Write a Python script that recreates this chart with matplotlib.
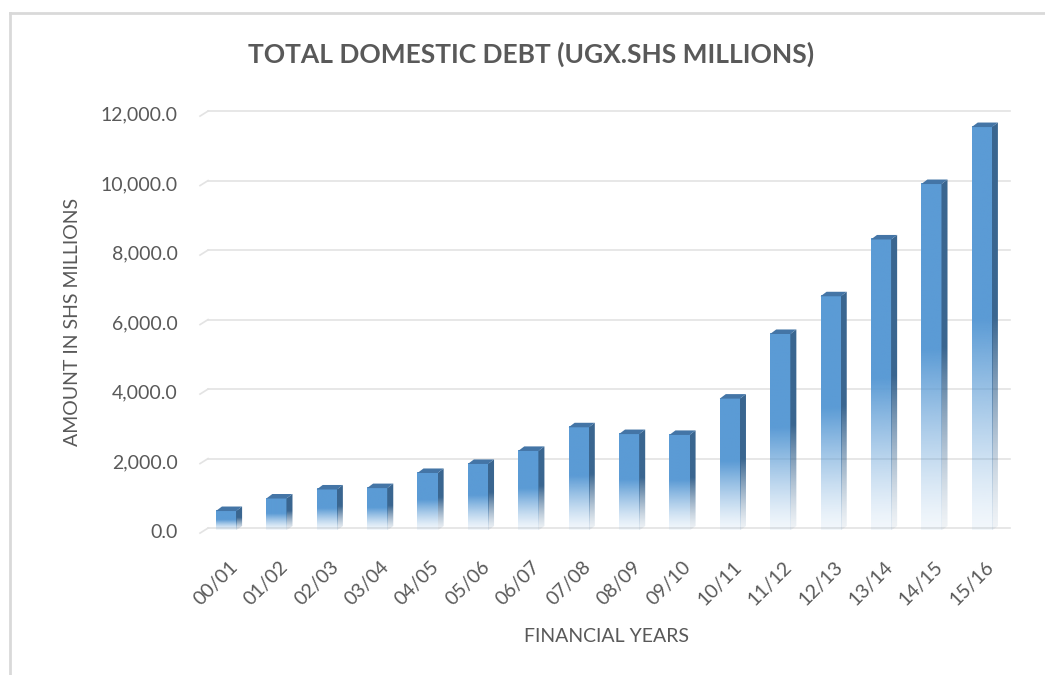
import numpy as np
import matplotlib
matplotlib.use("Agg")
import matplotlib.pyplot as plt
from matplotlib.patches import Polygon
from matplotlib.lines import Line2D
from matplotlib.colors import to_rgb

years = ["00/01", "01/02", "02/03", "03/04", "04/05", "05/06", "06/07", "07/08",
         "08/09", "09/10", "10/11", "11/12", "12/13", "13/14", "14/15", "15/16"]
debt = [560, 920, 1180, 1220, 1655, 1915, 2290, 2970,
        2775, 2750, 3795, 5655, 6740, 8375, 9970, 11610]
yticks = [0, 2000, 4000, 6000, 8000, 10000, 12000]

FRONT = "#5b9bd5"
SIDE = "#3a6690"
TOP = "#4475a6"
GRID = "#e3e3e3"
TEXT = "#595959"

plt.rcParams["font.family"] = ["Lato", "DejaVu Sans"]

fig = plt.figure(figsize=(10.45, 6.75), dpi=100)
ax = fig.add_axes([203.8 / 1045, 1 - 530.5 / 675, 806.2 / 1045, 417 / 675])
ax.set_xlim(-0.5, len(years) - 0.5)
ax.set_ylim(0, 12000)

# fake 3D: front width, depth offset in data units
bw = 0.40
dx, dy = 0.12, 130


def fade(color, n=256):
    t = np.linspace(0, 1, n)
    a = 0.08 + 0.92 * np.clip(t / 0.52, 0, 1) ** 1.3
    rgba = np.zeros((n, 1, 4))
    rgba[..., :3] = to_rgb(color)
    rgba[..., 3] = a[:, None]
    return rgba


for i, h in enumerate(debt):
    x0 = i - 0.06 - bw / 2
    x1 = x0 + bw
    # front face
    ax.imshow(fade(FRONT), extent=[x0, x1, 0, h], origin="lower",
              aspect="auto", interpolation="bilinear", zorder=3)
    # side face
    side = Polygon([(x1, 0), (x1, h), (x1 + dx, h + dy), (x1 + dx, dy)],
                   closed=True, facecolor="none", edgecolor="none")
    ax.add_patch(side)
    im = ax.imshow(fade(SIDE), extent=[x1, x1 + dx, 0, h + dy], origin="lower",
                   aspect="auto", interpolation="bilinear", zorder=3)
    im.set_clip_path(side)
    # top face
    ax.add_patch(Polygon([(x0, h), (x1, h), (x1 + dx, h + dy), (x0 + dx, h + dy)],
                         closed=True, facecolor=TOP, edgecolor="none", zorder=4))

ax.set_xlim(-0.5, len(years) - 0.5)
ax.set_ylim(0, 12000)

# gridlines on the back wall with a short floor stub on the left
for v in yticks:
    ax.plot([-0.415, len(years) - 0.5], [v + 70, v + 70], color=GRID, lw=1.2,
            zorder=1, clip_on=False)
    ax.plot([-0.575, -0.415], [v - 75, v + 70], color=GRID, lw=1.2,
            zorder=1, clip_on=False)

for s in ax.spines.values():
    s.set_visible(False)

ax.set_yticks(yticks)
ax.set_yticklabels([f"{v:,.1f}" for v in yticks])
ax.set_xticks(range(len(years)))
ax.set_xticklabels(years, rotation=45, ha="right", rotation_mode="anchor")
ax.tick_params(axis="y", length=0, pad=19, labelsize=14, labelcolor=TEXT)
ax.tick_params(axis="x", length=0, pad=20, labelsize=14, labelcolor=TEXT)

ax.set_ylabel("AMOUNT IN SHS MILLIONS", fontsize=14, color=TEXT, labelpad=14)
ax.set_xlabel("FINANCIAL YEARS", fontsize=14, color=TEXT, labelpad=14)

fig.text(531.5 / 1045, 1 - 54 / 675, "TOTAL DOMESTIC DEBT (UGX.SHS MILLIONS)",
         ha="center", va="center", fontsize=19, fontweight="bold", color=TEXT)

# chart area border (top and left edges)
border = dict(color="#d9d9d9", lw=2, transform=fig.transFigure)
fig.add_artist(Line2D([10 / 1045, 1], [1 - 13 / 675, 1 - 13 / 675], **border))
fig.add_artist(Line2D([10 / 1045, 10 / 1045], [0, 1 - 13 / 675], **border))

fig.savefig("out.png", dpi=100, facecolor="white")
